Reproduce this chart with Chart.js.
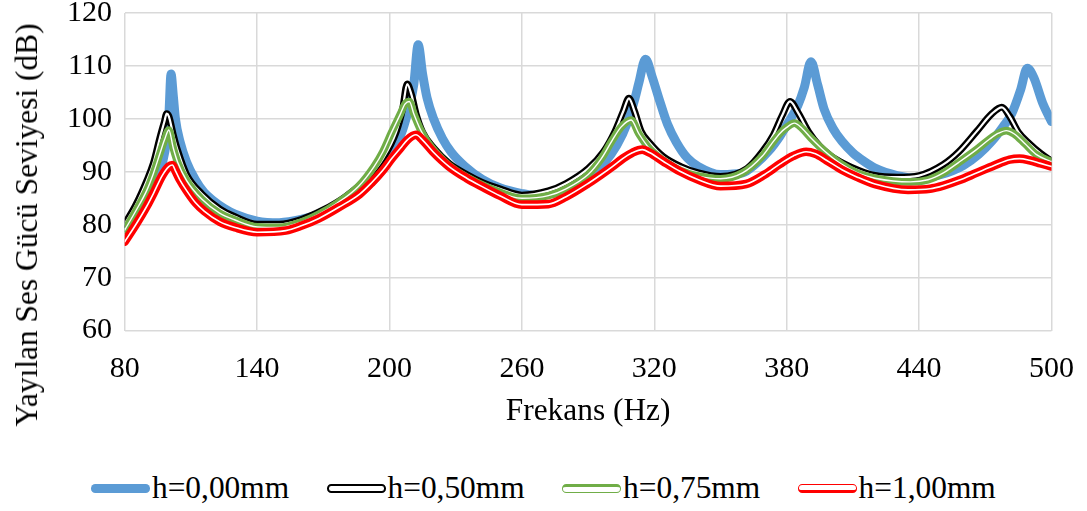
<!DOCTYPE html>
<html><head><meta charset="utf-8">
<script src="https://cdn.jsdelivr.net/npm/chart.js@4.4.1/dist/chart.umd.min.js"></script>
<style>
html,body{margin:0;padding:0;background:#fff;}
#wrap{position:relative;width:1087px;height:511px;overflow:hidden;font-family:'Liberation Serif','Times New Roman',serif;color:#000;}
#c{position:absolute;left:0;top:0;}
#ytitle{position:absolute;left:27px;top:225px;transform:translate(-50%,-50%) rotate(-90deg);white-space:nowrap;font-size:31.4px;line-height:36px;}
#legend{position:absolute;left:0;top:470.4px;width:1087px;height:36px;display:flex;justify-content:center;align-items:center;font-size:31.4px;line-height:36px;}
.item{display:flex;align-items:center;margin:0 18.85px;white-space:nowrap;}
.sw{width:59px;height:8.5px;box-sizing:border-box;border-radius:4.25px;margin-right:1.7px;}
</style></head>
<body><div id="wrap"><canvas id="c" width="1087" height="460"></canvas><div id="ytitle"></div><div id="legend"></div></div>
<script>
// ---- data ----
const xTitle = 'Frekans (Hz)';
const yTitle = 'Yayılan Ses Gücü Seviyesi (dB)';
const seriesLabels = ['h=0,00mm', 'h=0,50mm', 'h=0,75mm', 'h=1,00mm'];
const xTicks = [80, 140, 200, 260, 320, 380, 440, 500];
const yTicks = [60, 70, 80, 90, 100, 110, 120];

const hz000 = [80,85,90,94,97,99,100,101,102,103,105,108,112,116,120,125,130,140,150,160,170,180,190,197,202,206,209,211,213,215,217,220,224,228,234,242,250,260,265,270,280,290,297,303,308,311,313,316,319,322,326,330,335,340,350,360,366,372,377,381,385,388,391,394,397,401,405,410,415,420,430,440,450,460,467,473,478,482,486,489,492,496,500];
const db000 = [79.5,81.2,84,87.5,91.5,96,100.5,108.5,104.5,100,95.8,91.9,88.5,86.1,84.6,83.1,82,80.7,80.4,81,82.3,84.3,87.3,90.5,94,98,102.5,106.5,114,108.5,104,100,96.3,93.7,91.1,88.6,87,85.9,85.6,85.7,86.6,88.8,91.5,95,99.5,103.5,106.8,111.3,108,104,99,95.6,92.6,91,89.5,89.8,91.5,94,96.8,99.5,102.5,106,110.8,106.5,101.8,98.2,95.8,93.6,92,90.7,89.3,88.8,89.5,91.2,93.3,95.8,98.5,101,105.5,109.6,107.8,103,99.5];

const hz050 = [80,85,90,93,96,98,99,100,102,104,108,115,123,130,140,150,160,170,180,190,197,203,206,208,210,212,215,220,227,235,242,250,260,272,280,290,297,302,306,308.5,311,314,318,324,332,340,350,362,369,374,378,381.5,385,390,395,400,406,413,420,430,440,451,458,466,473,477.5,481,485,490,495,500];
const db050 = [80.1,83.7,88.3,91.6,96.5,99.5,101,100.5,97,94,89.5,85.8,83,81.5,80.1,80.1,81,82.8,85.3,88.8,92.5,97.5,102,106.6,104.5,101,97.5,94.5,91.6,89.5,88,86.8,85.6,86.4,87.8,90.6,93.8,97.5,101.5,103.9,101.5,97.7,95.4,92.9,91,89.8,89.1,90.6,93.8,97,100.7,103.3,101.3,97.5,94.8,93,91.5,90.2,89.3,89,89.3,91.4,93.8,97.6,101,102.2,100.5,97.5,95.3,93.5,92];

const hz075 = [80,85,90,93,96,98,100,102,104,108,115,123,130,140,150,160,168,176,186,193,197,201,205,207,209,211,214,217,222,227,235,245,260,272,280,290,296,301,305,309.5,313,318,324,332,340,350,360,369,373,377,380,383.5,387,391,397,405,412,420,436,444,451,458,466,472,476,479.5,483,488,493,500];
const db075 = [79,82.6,86.5,89.7,93.5,96,97.9,94.5,91.8,88.4,84.8,82.2,80.9,79.6,79.5,80.5,82,84,87.3,91,93.8,97.5,101,102.8,103.3,101,98,95.8,93.2,91.2,89,87,85,85.5,86.8,89.5,92.5,96,98.5,99.8,97.2,94.3,92.2,90.2,89.2,88.7,89.8,93,95.2,97.3,98.4,99.2,98.2,96.4,94,91.4,89.8,88.8,88.1,88.5,89.8,91.8,94.2,96.2,97.3,97.8,97.2,95.3,93.3,91.9];

const hz100 = [80,85,90,93,97,100,101.6,103,105,108,112,116,123,130,140,153,160,168,177,186.5,192,197,201,205,208,212,215,219.7,227,235,242,250,260,272,280,290,296,301,306,310,314.5,318,324,331.6,340,350,361.6,370,377,383,388.8,393,398,405,412,420,435,445,451,458,466,474,481,485.5,490,495,500];
const db100 = [76.8,80,83.5,85.9,89.3,91,91.3,90.2,88.5,86.5,84.2,82.6,80.6,79.5,78.6,78.9,79.8,81.2,83.3,85.8,88,90.3,92.5,94.5,96,97,96,93.8,91,88.8,87.2,85.5,83.8,83.9,85.3,87.8,89.5,91,92.6,93.6,94.2,93.6,92,90.1,88.5,87.3,87.7,89.5,91.5,93,93.8,93.4,92.2,90.4,89,87.7,86.6,86.8,87.4,88.4,89.8,91.2,92.3,92.5,92.2,91.6,91];

// ---- chart ----
const FONT = "'Liberation Serif', 'Times New Roman', serif";
const pts = (xs, ys) => xs.map((x, i) => ({x: x, y: ys[i]}));
const base = {pointRadius: 0, pointHoverRadius: 0, fill: false, cubicInterpolationMode: 'monotone', borderCapStyle: 'round', borderJoinStyle: 'round'};

const series = [
  {label: seriesLabels[0], xs: hz000, ys: db000, color: '#5B9BD5', width: 9, inner: 0},
  {label: seriesLabels[1], xs: hz050, ys: db050, color: '#000000', width: 7, inner: 2.2},
  {label: seriesLabels[2], xs: hz075, ys: db075, color: '#70AD47', width: 7.6, inner: 1.4},
  {label: seriesLabels[3], xs: hz100, ys: db100, color: '#FF0000', width: 8.6, inner: 1.6}
];
const datasets = [];
let ord = 20;
series.forEach(s => {
  datasets.push(Object.assign({}, base, {label: s.label, data: pts(s.xs, s.ys), borderColor: s.color, backgroundColor: s.color, borderWidth: s.width, order: ord--}));
  if (s.inner) datasets.push(Object.assign({}, base, {label: s.label + ' ', data: pts(s.xs, s.ys), borderColor: '#FFFFFF', borderWidth: s.inner, order: ord--}));
});

Chart.defaults.font.family = FONT;
new Chart(document.getElementById('c'), {
  type: 'line',
  data: {datasets: datasets},
  options: {
    responsive: false,
    animation: false,
    events: [],
    layout: {padding: {left: 0, right: 35.5, top: 13.1, bottom: 0}},
    plugins: {legend: {display: false}, tooltip: {enabled: false}},
    scales: {
      x: {
        type: 'linear', min: xTicks[0], max: xTicks[xTicks.length - 1],
        afterBuildTicks: s => { s.ticks = xTicks.map(v => ({value: v})); },
        ticks: {font: {family: FONT, size: 30}, color: '#000', padding: 21, maxRotation: 0},
        grid: {color: '#D9D9D9', lineWidth: 1.5, drawTicks: false},
        border: {display: false},
        title: {display: true, text: xTitle, font: {family: FONT, size: 31.4}, color: '#000', padding: {top: 0, bottom: 29}},
        afterFit: s => { s.height = 129.4; s.paddingLeft = 0; s.paddingRight = 0; }
      },
      y: {
        type: 'linear', min: yTicks[0], max: yTicks[yTicks.length - 1],
        afterBuildTicks: s => { s.ticks = yTicks.map(v => ({value: v})); },
        ticks: {font: {family: FONT, size: 30}, color: '#000', padding: 12.7},
        grid: {color: '#D9D9D9', lineWidth: 1.5, drawTicks: false},
        border: {display: false},
        afterFit: s => { s.width = 124.7; s.paddingTop = 0; s.paddingBottom = 0; }
      }
    }
  }
});

// ---- titles and legend as HTML text ----
document.getElementById('ytitle').textContent = yTitle;
const leg = document.getElementById('legend');
const swStyles = [
  'background:#5B9BD5;',
  'background:#fff;border:2.2px solid #000;',
  'background:#fff;border:solid #70AD47;border-width:3.6px 1.6px 1.6px 1.6px;',
  'background:#fff;border:solid #FF0000;border-width:1.6px 1.6px 3.6px 1.6px;'
];
seriesLabels.forEach((lab, i) => {
  const it = document.createElement('div'); it.className = 'item';
  const sw = document.createElement('div'); sw.className = 'sw'; sw.style.cssText = swStyles[i];
  const tx = document.createElement('span'); tx.textContent = lab;
  it.appendChild(sw); it.appendChild(tx); leg.appendChild(it);
});
</script>
</body></html>
